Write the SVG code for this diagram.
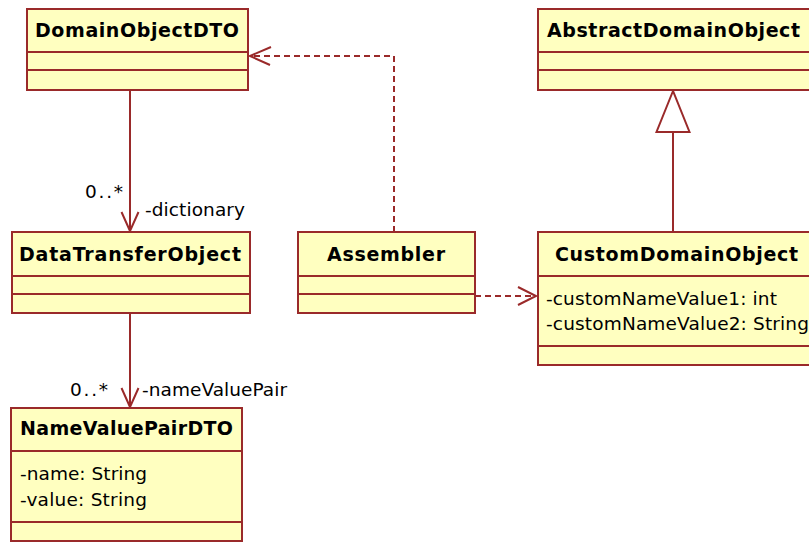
<svg xmlns="http://www.w3.org/2000/svg" width="809" height="542" viewBox="0 0 809 542">
<style>
.box rect{fill:#FFFFC0;stroke:#9A2A2A;stroke-width:2}
.box line{stroke:#9A2A2A;stroke-width:2}
.t{font-family:"DejaVu Sans",Verdana,sans-serif;font-weight:bold;font-size:19px;fill:#000}
.a{font-family:"DejaVu Sans",Verdana,sans-serif;font-size:18.5px;fill:#000}
.c{stroke:#9A2A2A;stroke-width:2;fill:none}
.d{stroke-dasharray:6,4}
</style>
<rect width="809" height="542" fill="#fff"/>
<g id="connectors">
<line class="c" x1="130" y1="90" x2="130" y2="231"/>
<polyline class="c" points="121.5,212 130,231 138.5,212"/>
<text class="a" x="85" y="198" textLength="38">0..*</text>
<text class="a" x="145" y="216" textLength="100">-dictionary</text>
<line class="c" x1="130" y1="313" x2="130" y2="407"/>
<polyline class="c" points="121.5,388 130,407 138.5,388"/>
<text class="a" x="70" y="396" textLength="38">0..*</text>
<text class="a" x="142" y="396" textLength="145">-nameValuePair</text>
<polyline class="c d" points="394,232 394,56 251,56"/>
<polyline class="c" points="271,47 250,56 270,65"/>
<line class="c d" x1="475" y1="296" x2="535" y2="296"/>
<polyline class="c" points="518,287 536,296 518,305"/>
<line class="c" x1="673" y1="232" x2="673" y2="132"/>
<polygon class="c" points="673,91 656.5,132 689.5,132" style="fill:#fff"/>
</g>
<g id="DomainObjectDTO" class="box">
<rect x="27" y="9" width="221" height="81"/>
<line x1="27" y1="52" x2="248" y2="52"/>
<line x1="27" y1="70" x2="248" y2="70"/>
<text class="t" x="35" y="37" textLength="204">DomainObjectDTO</text>
</g>
<g id="AbstractDomainObject" class="box">
<rect x="538" y="9" width="275" height="81"/>
<line x1="538" y1="52" x2="813" y2="52"/>
<line x1="538" y1="70" x2="813" y2="70"/>
<text class="t" x="547" y="37" textLength="253">AbstractDomainObject</text>
</g>
<g id="DataTransferObject" class="box">
<rect x="12" y="232" width="238" height="81"/>
<line x1="12" y1="276" x2="250" y2="276"/>
<line x1="12" y1="294" x2="250" y2="294"/>
<text class="t" x="19" y="261" textLength="222">DataTransferObject</text>
</g>
<g id="Assembler" class="box">
<rect x="298" y="232" width="177" height="81"/>
<line x1="298" y1="276" x2="475" y2="276"/>
<line x1="298" y1="294" x2="475" y2="294"/>
<text class="t" x="327" y="261" textLength="118">Assembler</text>
</g>
<g id="CustomDomainObject" class="box">
<rect x="538" y="232" width="275" height="133"/>
<line x1="538" y1="276" x2="813" y2="276"/>
<line x1="538" y1="346" x2="813" y2="346"/>
<text class="t" x="555" y="261" textLength="243">CustomDomainObject</text>
<text class="a" x="546" y="305" textLength="231">-customNameValue1: int</text>
<text class="a" x="546" y="330" textLength="263">-customNameValue2: String</text>
</g>
<g id="NameValuePairDTO" class="box">
<rect x="11" y="408" width="231" height="133"/>
<line x1="11" y1="451" x2="242" y2="451"/>
<line x1="11" y1="522" x2="242" y2="522"/>
<text class="t" x="20" y="435" textLength="213">NameValuePairDTO</text>
<text class="a" x="20" y="480" textLength="127">-name: String</text>
<text class="a" x="20" y="506" textLength="127">-value: String</text>
</g>
</svg>
